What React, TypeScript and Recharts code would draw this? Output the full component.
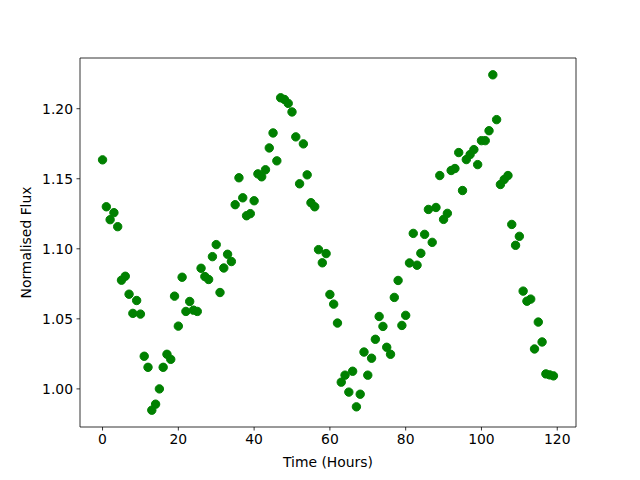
import React from 'react';
import { ScatterChart, Scatter, XAxis, YAxis, Label, ReferenceLine } from 'recharts';

const hours = [
  0, 1, 2, 3, 4, 5, 6, 7, 8, 9, 10, 11, 12, 13, 14, 15, 16, 17, 18, 19,
  20, 21, 22, 23, 24, 25, 26, 27, 28, 29, 30, 31, 32, 33, 34, 35, 36, 37, 38, 39,
  40, 41, 42, 43, 44, 45, 46, 47, 48, 49, 50, 51, 52, 53, 54, 55, 56, 57, 58, 59,
  60, 61, 62, 63, 64, 65, 66, 67, 68, 69, 70, 71, 72, 73, 74, 75, 76, 77, 78, 79,
  80, 81, 82, 83, 84, 85, 86, 87, 88, 89, 90, 91, 92, 93, 94, 95, 96, 97, 98, 99,
  100, 101, 102, 103, 104, 105, 106, 107, 108, 109, 110, 111, 112, 113, 114, 115, 116, 117, 118, 119,
];

const flux = [
  1.1635, 1.130, 1.1208, 1.1258, 1.1158, 1.0776, 1.0804, 1.0676, 1.0539, 1.0631,
  1.0534, 1.0233, 1.0154, 0.9848, 0.9891, 1.000, 1.0154, 1.0247, 1.0211, 1.0662,
  1.0448, 1.0797, 1.0553, 1.0624, 1.0562, 1.0553, 1.0861, 1.0802, 1.0781, 1.0944,
  1.1030, 1.0688, 1.0863, 1.0961, 1.0909, 1.1315, 1.1507, 1.1364, 1.1236, 1.1251,
  1.1343, 1.1535, 1.1514, 1.1564, 1.1720, 1.1827, 1.1628, 1.2078, 1.2066, 1.2038,
  1.1977, 1.1799, 1.1464, 1.1749, 1.1528, 1.1329, 1.1300, 1.0994, 1.0900, 1.0966,
  1.0674, 1.0605, 1.0470, 1.0048, 1.0098, 0.9977, 1.0126, 0.9872, 0.9962, 1.0263,
  1.0098, 1.0219, 1.0354, 1.0517, 1.0446, 1.0297, 1.0247, 1.0653, 1.0774, 1.0453,
  1.0525, 1.0899, 1.1110, 1.0883, 1.0968, 1.1103, 1.1281, 1.1046, 1.1295, 1.1523,
  1.1210, 1.1253, 1.1559, 1.1573, 1.1687, 1.1416, 1.1637, 1.1673, 1.1708, 1.1601,
  1.1772, 1.1772, 1.1843, 1.2242, 1.1922, 1.1459, 1.1495, 1.1523, 1.1174, 1.1025,
  1.1089, 1.0698, 1.0626, 1.0641, 1.0285, 1.0477, 1.0335, 1.0107, 1.0100, 1.0093,
];

const xTicks = [0, 20, 40, 60, 80, 100, 120];
const yTicks = [1.0, 1.05, 1.1, 1.15, 1.2];
const xDomain: [number, number] = [-5.95, 124.95];
const yDomain: [number, number] = [0.9728, 1.2362];

const xLabel = 'Time (Hours)';
const yLabel = 'Normalised Flux';

const data = hours.map((h, i) => ({ hour: h, flux: flux[i] }));

const FONT = 'DejaVu Sans, sans-serif';
const tickStyle = { fill: '#000', fontSize: 13.9, fontFamily: FONT };

const Dot = (props: any) => {
  const { cx, cy } = props;
  if (cx == null || cy == null) return null;
  return <circle cx={cx} cy={cy} r={4.2} fill="#008000" stroke="#008000" strokeWidth={1} />;
};

export default function App() {
  return (
    <div style={{ position: 'absolute', left: 0, top: 0, width: 640, height: 480, background: '#fff' }}>
      <ScatterChart width={640} height={480} margin={{ top: 58, right: 64, left: 0, bottom: 0 }}>
        <XAxis
          type="number"
          dataKey="hour"
          domain={xDomain}
          ticks={xTicks}
          allowDataOverflow
          height={53}
          tickSize={3.5}
          tickMargin={3.5}
          tick={tickStyle}
          stroke="#000"
          strokeWidth={0.8}
          interval={0}
        >
          <Label
            content={(p: any) => {
              const vb = p.viewBox;
              return (
                <text x={vb.x + vb.width / 2} y={467} textAnchor="middle" fill="#000" fontSize={13.9} fontFamily={FONT}>
                  {xLabel}
                </text>
              );
            }}
          />
        </XAxis>
        <YAxis
          type="number"
          dataKey="flux"
          domain={yDomain}
          ticks={yTicks}
          allowDataOverflow
          width={80}
          tickSize={3.5}
          tickMargin={3.5}
          tick={tickStyle}
          tickFormatter={(v: number) => v.toFixed(2)}
          stroke="#000"
          strokeWidth={0.8}
          interval={0}
        >
          <Label
            content={(p: any) => {
              const vb = p.viewBox;
              const cy = vb.y + vb.height / 2;
              return (
                <text
                  x={26}
                  y={cy}
                  transform={`rotate(-90, 26, ${cy})`}
                  textAnchor="middle"
                  dominantBaseline="central"
                  fill="#000"
                  fontSize={13.9}
                  fontFamily={FONT}
                >
                  {yLabel}
                </text>
              );
            }}
          />
        </YAxis>
        <ReferenceLine y={yDomain[1]} stroke="#000" strokeWidth={0.8} ifOverflow="extendDomain" />
        <ReferenceLine x={xDomain[1]} stroke="#000" strokeWidth={0.8} ifOverflow="extendDomain" />
        <Scatter data={data} dataKey="flux" shape={Dot} isAnimationActive={false} />
      </ScatterChart>
    </div>
  );
}
